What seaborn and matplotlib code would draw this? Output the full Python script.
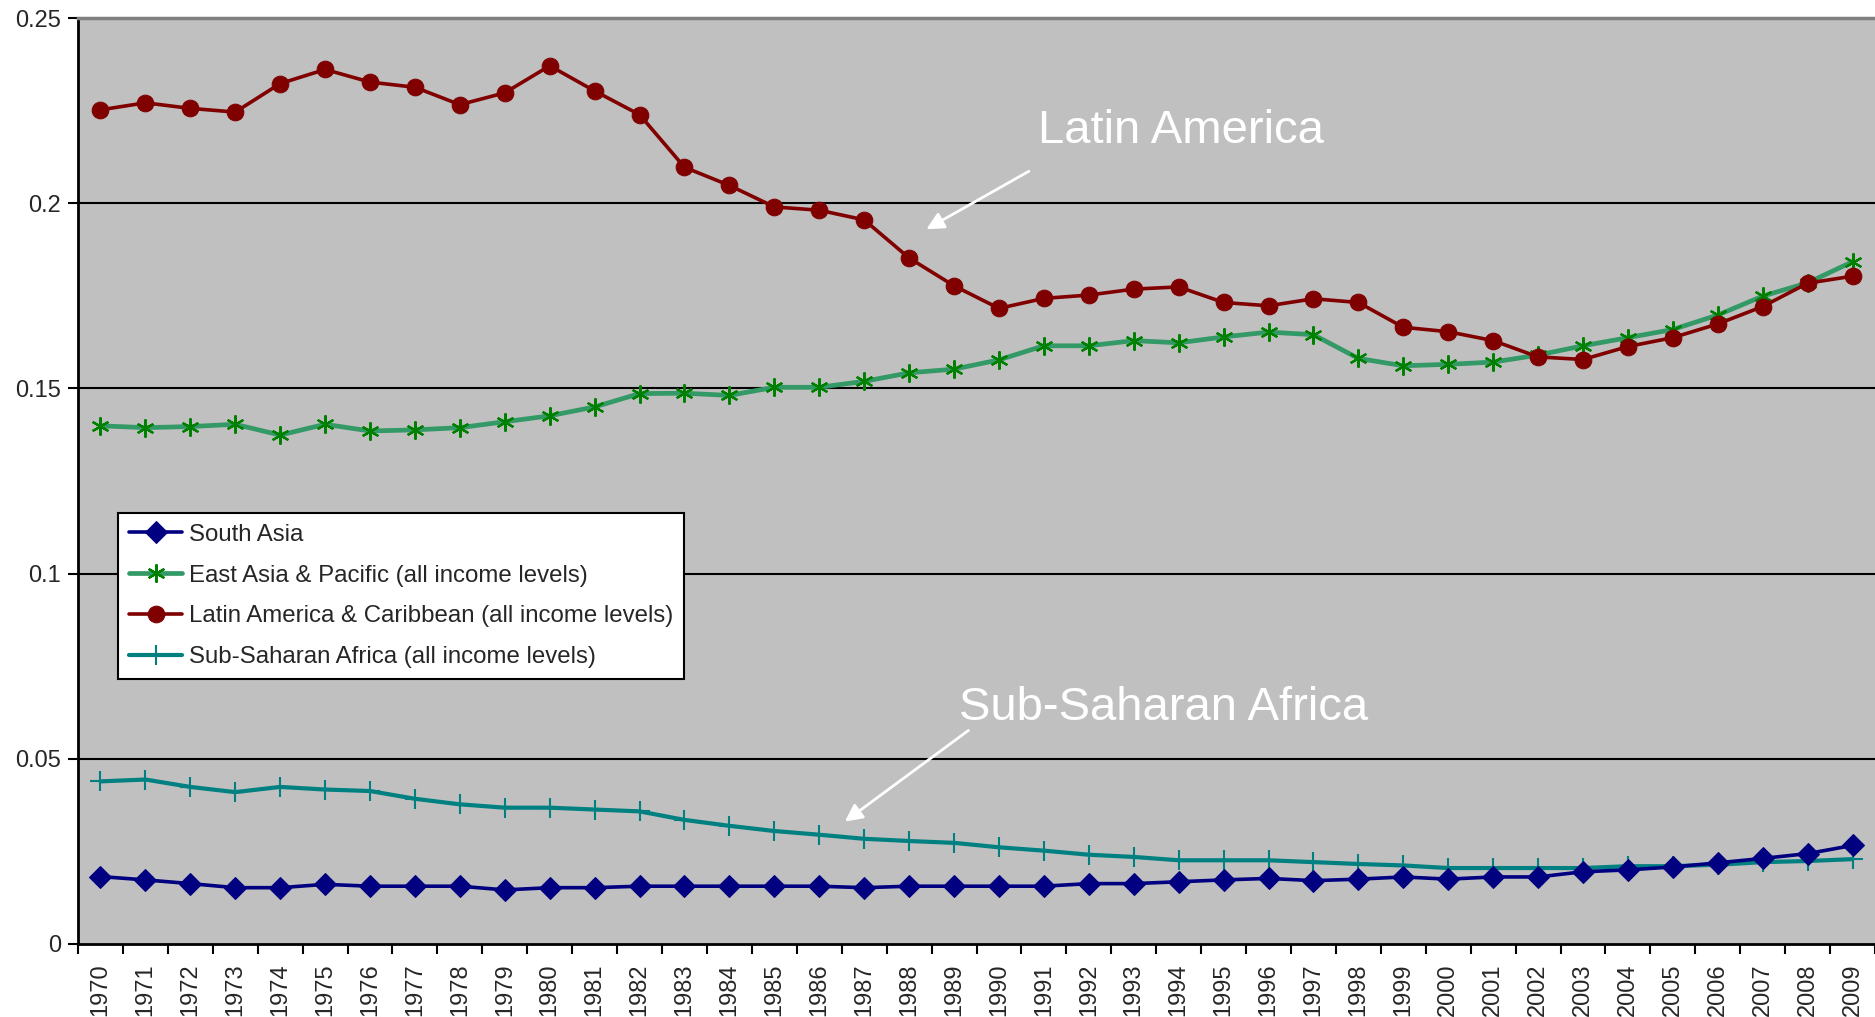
import numpy as np
import pandas as pd
import matplotlib
matplotlib.use("Agg")
import matplotlib.pyplot as plt
from matplotlib.ticker import FixedLocator
import seaborn as sns

years = list(range(1970, 2010))

south_asia = [0.0182, 0.0173, 0.0163, 0.0152, 0.0152, 0.0161, 0.0156, 0.0156, 0.0156, 0.0146,
              0.0152, 0.0152, 0.0156, 0.0156, 0.0156, 0.0156, 0.0156, 0.0152, 0.0156, 0.0156,
              0.0156, 0.0156, 0.0163, 0.0163, 0.0168, 0.0173, 0.0177, 0.0171, 0.0175, 0.0181,
              0.0175, 0.0181, 0.0181, 0.0195, 0.0200, 0.0208, 0.0219, 0.0231, 0.0244, 0.0266]

east_asia = [0.1399, 0.1394, 0.1397, 0.1403, 0.1374, 0.1403, 0.1385, 0.1388, 0.1394, 0.1410,
             0.1426, 0.1450, 0.1486, 0.1487, 0.1481, 0.1503, 0.1503, 0.1519, 0.1542, 0.1552,
             0.1577, 0.1615, 0.1615, 0.1629, 0.1623, 0.1639, 0.1652, 0.1645, 0.1581, 0.1561,
             0.1565, 0.1571, 0.1590, 0.1615, 0.1637, 0.1659, 0.1698, 0.1749, 0.1785, 0.1842]

latin_america = [0.2252, 0.2271, 0.2256, 0.2246, 0.2323, 0.2361, 0.2327, 0.2313, 0.2266, 0.2298,
                 0.2371, 0.2303, 0.2239, 0.2097, 0.2048, 0.1990, 0.1981, 0.1955, 0.1852, 0.1777,
                 0.1716, 0.1743, 0.1752, 0.1768, 0.1774, 0.1732, 0.1723, 0.1742, 0.1732, 0.1665,
                 0.1653, 0.1629, 0.1585, 0.1578, 0.1613, 0.1637, 0.1674, 0.1721, 0.1784, 0.1803]

sub_saharan = [0.0439, 0.0444, 0.0424, 0.0410, 0.0424, 0.0417, 0.0413, 0.0392, 0.0377, 0.0368,
               0.0368, 0.0363, 0.0358, 0.0335, 0.0319, 0.0305, 0.0295, 0.0284, 0.0278, 0.0273,
               0.0261, 0.0252, 0.0241, 0.0235, 0.0226, 0.0226, 0.0226, 0.0221, 0.0216, 0.0212,
               0.0205, 0.0205, 0.0205, 0.0205, 0.0210, 0.0210, 0.0214, 0.0221, 0.0224, 0.0229]

series_names = ["South Asia",
                "East Asia & Pacific (all income levels)",
                "Latin America & Caribbean (all income levels)",
                "Sub-Saharan Africa (all income levels)"]

y_ticks = [0, 0.05, 0.1, 0.15, 0.2, 0.25]
y_tick_labels = ["0", "0.05", "0.1", "0.15", "0.2", "0.25"]

sns.set_theme(style="ticks")
plt.rcParams["font.family"] = ["Liberation Sans", "DejaVu Sans"]

fig = plt.figure(figsize=(18.75, 10.17), dpi=100)
ax = fig.add_axes([0.0416, 0.0718, 0.9584, 0.9105])
ax.set_facecolor("#C0C0C0")

x = np.arange(len(years))
df = pd.DataFrame({"x": x,
                   series_names[0]: south_asia,
                   series_names[1]: east_asia,
                   series_names[2]: latin_america,
                   series_names[3]: sub_saharan})

styles = {
    series_names[0]: dict(color="#000080", lw=2.6, marker="D", markersize=11,
                          markerfacecolor="#000080", markeredgecolor="#000080", zorder=4),
    series_names[1]: dict(color="#339966", lw=3.4, marker=(6, 2, 0), markersize=13,
                          markerfacecolor="#008000", markeredgecolor="#008000",
                          markeredgewidth=1.6, zorder=3),
    series_names[2]: dict(color="#800000", lw=2.6, marker="o", markersize=12,
                          markerfacecolor="#800000", markeredgecolor="#800000", zorder=5),
    series_names[3]: dict(color="#008080", lw=3.0, marker="+", markersize=14,
                          markerfacecolor="#008080", markeredgecolor="#008080",
                          markeredgewidth=1.5, zorder=3),
}

for name in series_names:
    sns.lineplot(data=df, x="x", y=name, ax=ax, label=name, **styles[name])

ax.set_xlim(-0.5, len(years) - 0.5)
ax.set_ylim(0, 0.25)
ax.set_xlabel("")
ax.set_ylabel("")

# horizontal grid lines
for yv in y_ticks[1:-1]:
    ax.axhline(yv, color="black", lw=1.5, zorder=1)

ax.set_yticks(y_ticks)
ax.set_yticklabels(y_tick_labels, fontsize=17)
ax.tick_params(axis="y", direction="out", length=7, width=1.5, color="black", pad=5)

ax.set_xticks(x)
ax.set_xticklabels([str(y) for y in years], rotation=90, fontsize=17)
ax.tick_params(axis="x", which="major", length=0, pad=14)
ax.xaxis.set_minor_locator(FixedLocator(np.arange(-0.5, len(years), 1.0)))
ax.tick_params(axis="x", which="minor", direction="out", length=7, width=1.5, color="black")

ax.spines["left"].set_color("black")
ax.spines["left"].set_linewidth(2)
ax.spines["bottom"].set_color("black")
ax.spines["bottom"].set_linewidth(2)
ax.spines["top"].set_color("#808080")
ax.spines["top"].set_linewidth(2.5)
ax.spines["right"].set_visible(False)

# annotations
ax.text(20.86, 0.2195, "Latin America", color="white", fontsize=34, va="center", ha="left")
ax.annotate("", xy=(18.33, 0.1926), xytext=(20.72, 0.2090),
            arrowprops=dict(arrowstyle="-|>", color="white", lw=2, mutation_scale=26))
ax.text(19.10, 0.0638, "Sub-Saharan Africa", color="white", fontsize=34, va="center", ha="left")
ax.annotate("", xy=(16.52, 0.0326), xytext=(19.37, 0.0581),
            arrowprops=dict(arrowstyle="-|>", color="white", lw=2, mutation_scale=26))

leg = ax.legend(loc="upper left", bbox_to_anchor=(0.0225, 0.4654), borderaxespad=0,
                fontsize=17.3, frameon=True, fancybox=False, framealpha=1,
                edgecolor="black", facecolor="white", handlelength=2.2,
                labelspacing=0.78, borderpad=0.45, handletextpad=0.3)
leg.get_frame().set_linewidth(1.5)

fig.savefig("out.png", dpi=100)
